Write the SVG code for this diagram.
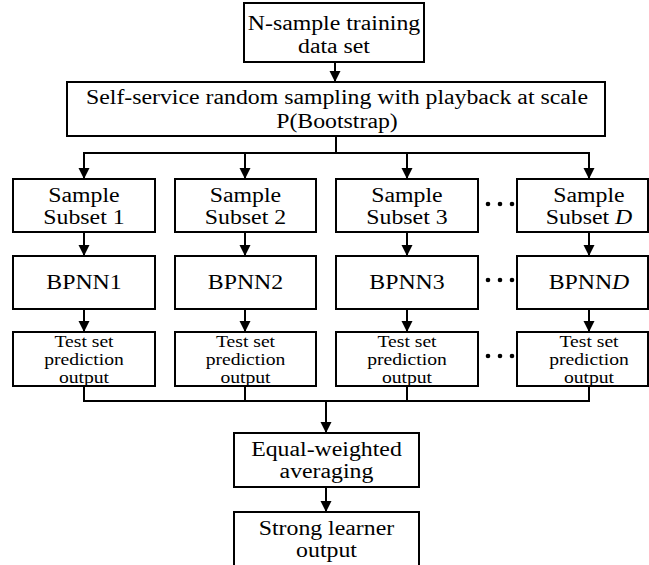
<svg xmlns="http://www.w3.org/2000/svg" width="649" height="565" viewBox="0 0 649 565" font-family="Liberation Serif, DejaVu Serif, serif">
<style>
  rect.box { fill: #ffffff; stroke: #000000; stroke-width: 2; }
  text { font-family: 'Liberation Serif', 'DejaVu Serif', serif; font-size: 20px; fill: #000000; text-anchor: middle; transform-box: fill-box; transform-origin: center; transform: scaleX(1.19); }
  text.small { font-size: 16.5px; }
  .conn line, .conn path { stroke: #000000; stroke-width: 2; fill: none; }
  .dot { fill: #000000; }
  .it { font-style: italic; }
</style>
<defs>
  <marker id="arr" markerUnits="userSpaceOnUse" markerWidth="12" markerHeight="12" refX="11" refY="5.5" orient="auto">
    <path d="M0,0 L11,5.5 L0,11 z" fill="#000000"/>
  </marker>
</defs>
<rect width="649" height="565" fill="#ffffff"/>

<g class="conn" id="connectors">
  <line x1="335" y1="62" x2="335" y2="82" marker-end="url(#arr)"/>
  <path d="M336,136 V153"/>
  <path d="M84,153 H589"/>
  <line x1="84" y1="152" x2="84" y2="179" marker-end="url(#arr)"/>
  <line x1="245" y1="152" x2="245" y2="179" marker-end="url(#arr)"/>
  <line x1="407" y1="152" x2="407" y2="179" marker-end="url(#arr)"/>
  <line x1="589" y1="152" x2="589" y2="179" marker-end="url(#arr)"/>
  <line x1="84" y1="232" x2="84" y2="256" marker-end="url(#arr)"/>
  <line x1="245" y1="232" x2="245" y2="256" marker-end="url(#arr)"/>
  <line x1="407" y1="232" x2="407" y2="256" marker-end="url(#arr)"/>
  <line x1="589" y1="232" x2="589" y2="256" marker-end="url(#arr)"/>
  <line x1="84" y1="309" x2="84" y2="332" marker-end="url(#arr)"/>
  <line x1="245" y1="309" x2="245" y2="332" marker-end="url(#arr)"/>
  <line x1="407" y1="309" x2="407" y2="332" marker-end="url(#arr)"/>
  <line x1="589" y1="309" x2="589" y2="332" marker-end="url(#arr)"/>
  <path d="M84,386 V401 H589 V386"/>
  <path d="M245,386 V401"/>
  <path d="M407,386 V401"/>
  <line x1="326" y1="400" x2="326" y2="433" marker-end="url(#arr)"/>
  <line x1="326" y1="487" x2="326" y2="512" marker-end="url(#arr)"/>
</g>

<g id="n-training">
  <rect class="box" x="244" y="3" width="180" height="59"/>
  <text x="334" y="30">N-sample training</text>
  <text x="334" y="53">data set</text>
</g>

<g id="n-bootstrap">
  <rect class="box" x="67" y="82" width="538" height="54"/>
  <text x="337" y="104">Self-service random sampling with playback at scale</text>
  <text x="337" y="128">P(Bootstrap)</text>
</g>

<g id="n-subset1">
  <rect class="box" x="13" y="179" width="142" height="53"/>
  <text x="84" y="202">Sample</text>
  <text x="84" y="224">Subset 1</text>
</g>
<g id="n-subset2">
  <rect class="box" x="175" y="179" width="141" height="53"/>
  <text x="245.5" y="202">Sample</text>
  <text x="245.5" y="224">Subset 2</text>
</g>
<g id="n-subset3">
  <rect class="box" x="336" y="179" width="142" height="53"/>
  <text x="407" y="202">Sample</text>
  <text x="407" y="224">Subset 3</text>
</g>
<g id="n-subsetD">
  <rect class="box" x="517" y="179" width="131" height="53"/>
  <text x="589" y="202">Sample</text>
  <text x="589" y="224">Subset <tspan class="it">D</tspan></text>
</g>

<g id="n-bpnn1">
  <rect class="box" x="13" y="256" width="142" height="53"/>
  <text x="84" y="289">BPNN1</text>
</g>
<g id="n-bpnn2">
  <rect class="box" x="175" y="256" width="141" height="53"/>
  <text x="245.5" y="289">BPNN2</text>
</g>
<g id="n-bpnn3">
  <rect class="box" x="336" y="256" width="142" height="53"/>
  <text x="407" y="289">BPNN3</text>
</g>
<g id="n-bpnnD">
  <rect class="box" x="517" y="256" width="131" height="53"/>
  <text x="589" y="289">BPNN<tspan class="it">D</tspan></text>
</g>

<g id="n-test1">
  <rect class="box" x="13" y="332" width="142" height="54"/>
  <text class="small" x="84" y="347">Test set</text>
  <text class="small" x="84" y="365">prediction</text>
  <text class="small" x="84" y="383">output</text>
</g>
<g id="n-test2">
  <rect class="box" x="175" y="332" width="141" height="54"/>
  <text class="small" x="245.5" y="347">Test set</text>
  <text class="small" x="245.5" y="365">prediction</text>
  <text class="small" x="245.5" y="383">output</text>
</g>
<g id="n-test3">
  <rect class="box" x="336" y="332" width="142" height="54"/>
  <text class="small" x="407" y="347">Test set</text>
  <text class="small" x="407" y="365">prediction</text>
  <text class="small" x="407" y="383">output</text>
</g>
<g id="n-testD">
  <rect class="box" x="517" y="332" width="131" height="54"/>
  <text class="small" x="589" y="347">Test set</text>
  <text class="small" x="589" y="365">prediction</text>
  <text class="small" x="589" y="383">output</text>
</g>

<g id="dots">
  <circle class="dot" cx="488" cy="204" r="2.3"/>
  <circle class="dot" cx="500" cy="204" r="2.3"/>
  <circle class="dot" cx="512" cy="204" r="2.3"/>
  <circle class="dot" cx="488" cy="280" r="2.3"/>
  <circle class="dot" cx="500" cy="280" r="2.3"/>
  <circle class="dot" cx="512" cy="280" r="2.3"/>
  <circle class="dot" cx="488" cy="356" r="2.3"/>
  <circle class="dot" cx="500" cy="356" r="2.3"/>
  <circle class="dot" cx="512" cy="356" r="2.3"/>
</g>

<g id="n-average">
  <rect class="box" x="234" y="433" width="185" height="54"/>
  <text x="326.5" y="456">Equal-weighted</text>
  <text x="326.5" y="478">averaging</text>
</g>

<g id="n-strong">
  <rect class="box" x="234" y="512" width="185" height="60"/>
  <text x="326.5" y="535">Strong learner</text>
  <text x="326.5" y="557">output</text>
</g>
</svg>
